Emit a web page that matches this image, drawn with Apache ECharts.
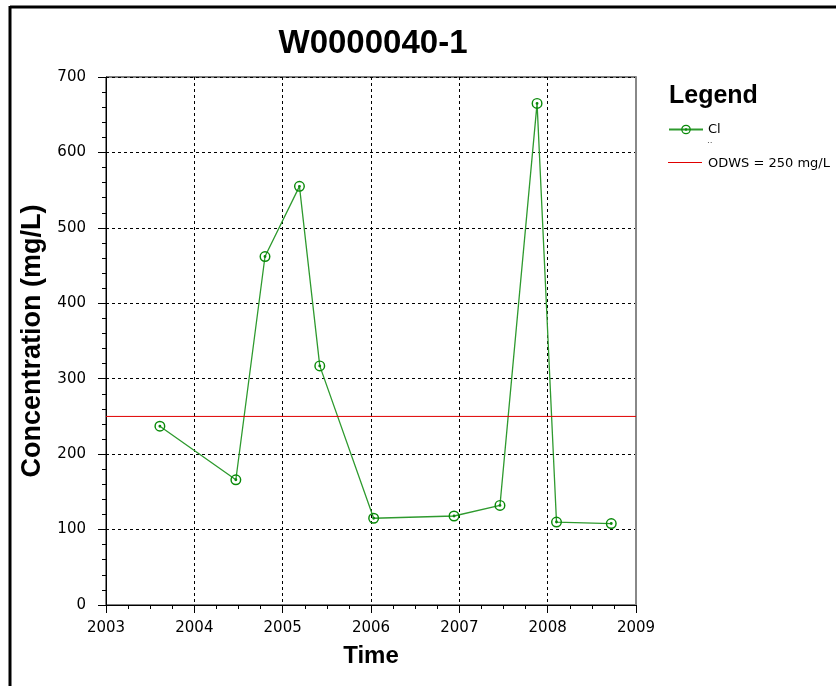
<!DOCTYPE html>
<html>
<head>
<meta charset="utf-8">
<script src="https://cdn.jsdelivr.net/npm/echarts@6/dist/echarts.min.js"></script>
<style>html,body{margin:0;padding:0;background:#fff}#c{width:836px;height:686px}</style>
</head>
<body>
<div id="c"></div>
<script>
// Sample dates (decimal years) and chloride concentrations (mg/L)
var sampleDates = [2003.61, 2004.47, 2004.80, 2005.19, 2005.42, 2006.03, 2006.94, 2007.46, 2007.88, 2008.10, 2008.72];
var clValues    = [237, 166, 462, 555, 317, 115, 118, 132, 665, 110, 108];
var odwsLimit = 250;
var xRange = [2003, 2009];
var yRange = [0, 700];
var chartTitle = 'W0000040-1';
var seriesNames = ['Cl', 'ODWS = 250 mg/L'];

var clData = sampleDates.map(function (d, i) { return [d, clValues[i]]; });
var odwsData = [[xRange[0], odwsLimit], [xRange[1], odwsLimit]];

var ringPath = 'path://M0,-5 A5,5 0 1,1 0,5 A5,5 0 1,1 0,-5 Z M0,-3.7 A3.7,3.7 0 1,0 0,3.7 A3.7,3.7 0 1,0 0,-3.7 Z M0,-1.3 A1.3,1.3 0 1,1 0,1.3 A1.3,1.3 0 1,1 0,-1.3 Z';

var chart = echarts.init(document.getElementById('c'), null, {renderer: 'canvas'});
chart.setOption({
  animation: false,
  backgroundColor: '#fff',
  title: [
    {text: chartTitle, left: 368, top: 22, textAlign: 'center',
     textStyle: {fontFamily: 'Liberation Sans', fontSize: 33, fontWeight: 'bold', color: '#000'}},
    {text: 'Legend', left: 664, top: 79,
     textStyle: {fontFamily: 'Liberation Sans', fontSize: 25, fontWeight: 'bold', color: '#000'}}
  ],
  legend: {
    orient: 'vertical', left: 663, top: 118,
    itemWidth: 34, itemHeight: 12, itemGap: 21,
    textStyle: {fontFamily: 'DejaVu Sans', fontSize: 13, color: '#000'},
    data: [
      {name: seriesNames[0]},
      {name: seriesNames[1], icon: 'rect', itemStyle: {opacity: 0}}
    ]
  },
  grid: {left: 106, top: 77, right: 200, bottom: 81, show: true, borderColor: '#000', borderWidth: 1},
  xAxis: {
    type: 'value', min: xRange[0], max: xRange[1], interval: 1,
    name: 'Time', nameLocation: 'middle', nameGap: 39,
    nameTextStyle: {fontFamily: 'Liberation Sans', fontSize: 24, fontWeight: 'bold', color: '#000'},
    axisLine: {lineStyle: {color: '#000', width: 1}},
    axisTick: {show: true, inside: false, length: 8, lineStyle: {color: '#000'}},
    minorTick: {show: true, splitNumber: 4, length: 4, lineStyle: {color: '#000'}},
    axisLabel: {formatter: function (v) { return String(v); }, fontFamily: 'DejaVu Sans', fontSize: 15, color: '#000', margin: 16},
    splitLine: {show: true, lineStyle: {color: '#000', type: [3, 3], width: 1}}
  },
  yAxis: [{
    type: 'value', min: yRange[0], max: yRange[1], interval: 100,
    name: 'Concentration (mg/L)', nameLocation: 'middle', nameGap: 51,
    nameTextStyle: {fontFamily: 'Liberation Sans', fontSize: 27, fontWeight: 'bold', color: '#000'},
    axisLine: {lineStyle: {color: '#000', width: 1}},
    axisTick: {show: true, inside: false, length: 8, lineStyle: {color: '#000'}},
    minorTick: {show: true, splitNumber: 5, length: 4, lineStyle: {color: '#000'}},
    axisLabel: {fontFamily: 'DejaVu Sans', fontSize: 15, color: '#000', margin: 20},
    splitLine: {show: true, lineStyle: {color: '#000', type: [3, 3], width: 1}}
  }, {
    type: 'value', min: yRange[0], max: yRange[1], position: 'right',
    axisLine: {show: true, lineStyle: {color: '#888', width: 2}},
    axisTick: {show: false}, axisLabel: {show: false}, splitLine: {show: false}
  }],
  series: [
    {
      name: seriesNames[0], type: 'line', data: clData,
      symbol: ringPath, symbolSize: 11, showAllSymbol: true,
      itemStyle: {color: '#0a8a0a'},
      lineStyle: {color: '#2e9a2e', width: 1.3}
    },
    {
      name: seriesNames[1], type: 'line', data: odwsData,
      symbol: 'none', itemStyle: {color: '#e00000'},
      lineStyle: {color: '#e00000', width: 1}
    }
  ],
  graphic: [
    {type: 'line', shape: {x1: 10, y1: 7, x2: 836, y2: 7}, style: {stroke: '#000', lineWidth: 3}},
    {type: 'line', shape: {x1: 10, y1: 6, x2: 10, y2: 686}, style: {stroke: '#000', lineWidth: 3}},
    {type: 'line', shape: {x1: 668, y1: 162.5, x2: 702, y2: 162.5}, style: {stroke: '#e00000', lineWidth: 1}},
    {type: 'text', left: 707, top: 136, style: {text: '..', font: '9px DejaVu Sans', fill: '#555'}}
  ]
});
</script>
</body>
</html>
